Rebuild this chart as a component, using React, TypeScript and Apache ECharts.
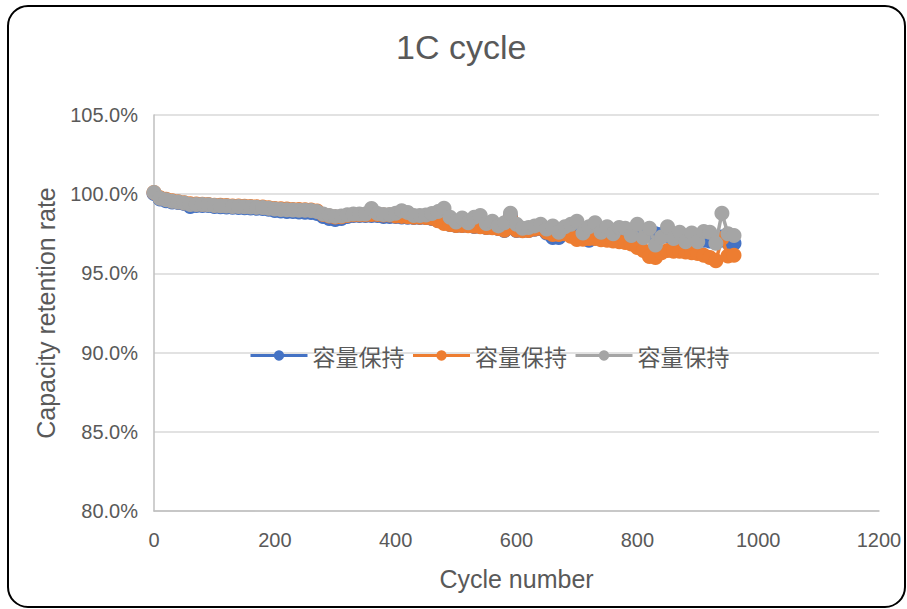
import React, { useEffect, useRef } from "react";
import * as echarts from "echarts";

const cycles = [
  0, 10, 20, 30, 40, 50, 60, 70, 80, 90,
  100, 110, 120, 130, 140, 150, 160, 170, 180, 190,
  200, 210, 220, 230, 240, 250, 260, 270, 280, 290,
  300, 310, 320, 330, 340, 350, 360, 370, 380, 390,
  400, 410, 420, 430, 440, 450, 460, 470, 480, 490,
  500, 510, 520, 530, 540, 550, 560, 570, 580, 590,
  600, 610, 620, 630, 640, 650, 660, 670, 680, 690,
  700, 710, 720, 730, 740, 750, 760, 770, 780, 790,
  800, 810, 820, 830, 840, 850, 860, 870, 880, 890,
  900, 910, 920, 930, 940, 950, 960,
];

const blueValues = [
  100.05, 99.7, 99.58, 99.5, 99.48, 99.41, 99.22, 99.29, 99.29, 99.29,
  99.22, 99.2, 99.19, 99.17, 99.16, 99.15, 99.13, 99.12, 99.1, 99.05,
  98.97, 98.94, 98.91, 98.9, 98.88, 98.86, 98.84, 98.78, 98.59, 98.47,
  98.4, 98.47, 98.59, 98.66, 98.66, 98.66, 98.66, 98.66, 98.59, 98.59,
  98.59, 98.56, 98.55, 98.53, 98.53, 98.53, 98.47, 98.34, 98.21, 98.09,
  98.02, 98.02, 98.02, 97.96, 97.96, 97.9, 97.9, 97.83, 97.71, 98.6,
  97.71, 97.71, 97.71, 97.78, 97.83, 97.55, 97.27, 97.27, 97.58, 97.45,
  97.4, 97.35, 97.1, 97.4, 97.45, 97.45, 97.45, 97.4, 97.4, 97.35,
  97.45, 97.5, 97.45, 97.5, 97.45, 97.4, 97.35, 97.3, 97.25, 97.2,
  97.15, 97.1, 97.05, 97.0, 97.3, 96.95, 96.9,
];

const orangeValues = [
  100.1, 99.77, 99.68, 99.58, 99.53, 99.46, 99.4, 99.38, 99.37, 99.35,
  99.31, 99.3, 99.28, 99.26, 99.25, 99.24, 99.22, 99.21, 99.19, 99.15,
  99.1, 99.08, 99.06, 99.04, 99.03, 99.02, 99.01, 98.94, 98.72, 98.62,
  98.56, 98.58, 98.66, 98.7, 98.7, 98.7, 98.72, 98.72, 98.68, 98.68,
  98.62, 98.6, 98.58, 98.55, 98.54, 98.53, 98.48, 98.32, 98.15, 98.08,
  98.02, 98.02, 98.01, 97.97, 97.95, 97.9, 97.88, 97.84, 97.72, 98.5,
  97.72, 97.7, 97.71, 97.8, 97.85, 97.6, 97.45, 97.45, 97.5, 97.35,
  97.14, 97.15, 97.2, 97.2, 97.12, 97.1, 97.05, 97.0, 96.95, 96.85,
  96.64, 96.45, 96.07, 96.0, 96.3, 96.45, 96.4, 96.4, 96.35, 96.3,
  96.25, 96.15, 96.0, 95.8, 97.2, 96.1, 96.15,
];

const greyValues = [
  100.1, 99.75, 99.65, 99.56, 99.51, 99.44, 99.35, 99.35, 99.35, 99.33,
  99.28, 99.27, 99.25, 99.23, 99.22, 99.21, 99.19, 99.18, 99.16, 99.12,
  99.06, 99.04, 99.02, 99.0, 98.99, 98.98, 98.97, 98.9, 98.75, 98.66,
  98.6, 98.62, 98.7, 98.75, 98.75, 98.75, 99.1, 98.78, 98.72, 98.72,
  98.8, 98.95, 98.85, 98.65, 98.65, 98.68, 98.78, 98.9, 99.12, 98.55,
  98.25, 98.5, 98.2, 98.55, 98.65, 98.15, 98.3, 98.0, 98.2, 98.8,
  98.1, 97.85, 97.9, 98.0, 98.1, 97.8, 98.0, 97.6, 97.95, 98.1,
  98.3, 97.55, 97.95, 98.2, 97.6, 97.95, 97.5, 97.9, 97.85, 97.4,
  98.1, 97.25, 97.85, 96.8, 97.3, 97.95, 97.2, 97.6, 97.0, 97.55,
  97.0, 97.65, 97.6, 96.9, 98.8, 97.5, 97.4,
];

const legendLabel = "容量保持";
const seriesIds = ["series1", "series2", "series3"];
const seriesColors = ["#4472C4", "#ED7D31", "#A5A5A5"];
const yTicks = { min: 80, max: 105, interval: 5 };
const xTicks = { min: 0, max: 1200, interval: 200 };

const TEXT = "#595959";
const FONT = "'Liberation Sans', Arial, sans-serif";

export default function App() {
  const ref = useRef<HTMLDivElement>(null);

  useEffect(() => {
    if (!ref.current) return;
    const chart = echarts.init(ref.current, undefined, { renderer: "svg" });
    const all = [blueValues, orangeValues, greyValues];
    const series = all.map((vals, i) => ({
      name: seriesIds[i],
      type: "line",
      data: cycles.map((c, k) => [c, vals[k]]),
      symbol: "circle",
      symbolSize: 15,
      showSymbol: true,
      showAllSymbol: true,
      lineStyle: { color: seriesColors[i], width: 3.5 },
      itemStyle: { color: seriesColors[i] },
      z: 2 + i,
    }));
    chart.setOption({
      animation: false,
      backgroundColor: "#ffffff",
      title: {
        text: "1C cycle",
        left: 391,
        top: 25,
        textStyle: {
          fontFamily: FONT,
          fontSize: 34,
          fontWeight: "normal",
          color: TEXT,
        },
      },
      legend: {
        left: 244,
        top: 339,
        itemWidth: 57,
        itemHeight: 13,
        itemGap: 7,
        formatter: () => legendLabel,
        lineStyle: { width: 3 },
        textStyle: {
          fontFamily: "'Noto Sans CJK SC', sans-serif",
          fontSize: 23,
          color: TEXT,
        },
        data: seriesIds,
      },
      grid: { left: 154, right: 28, top: 115, bottom: 98 },
      xAxis: {
        type: "value",
        min: xTicks.min,
        max: xTicks.max,
        interval: xTicks.interval,
        name: "Cycle number",
        nameLocation: "middle",
        nameGap: 55,
        nameTextStyle: { fontFamily: FONT, fontSize: 25, color: TEXT },
        axisLine: { show: true, lineStyle: { color: "#BFBFBF", width: 1.5 } },
        axisTick: { show: false },
        splitLine: { show: false },
        axisLabel: {
          fontFamily: FONT,
          fontSize: 20,
          color: TEXT,
          margin: 19,
          formatter: (v: number) => String(v),
        },
      },
      yAxis: {
        type: "value",
        min: yTicks.min,
        max: yTicks.max,
        interval: yTicks.interval,
        name: "Capacity retention rate",
        nameLocation: "middle",
        nameGap: 96,
        nameTextStyle: { fontFamily: FONT, fontSize: 25, color: TEXT },
        axisLine: { show: true, lineStyle: { color: "#BFBFBF", width: 1.5 } },
        axisTick: { show: false },
        splitLine: { show: true, lineStyle: { color: "#D9D9D9", width: 1.5 } },
        axisLabel: {
          fontFamily: FONT,
          fontSize: 20,
          color: TEXT,
          margin: 16,
          formatter: (v: number) => v.toFixed(1) + "%",
        },
      },
      series,
      graphic: [
        {
          type: "rect",
          silent: true,
          z: 100,
          shape: { x: 8, y: 6, width: 897, height: 601, r: 20 },
          style: { fill: "none", stroke: "#000000", lineWidth: 2 },
        },
      ],
    });
    return () => chart.dispose();
  }, []);

  return (
    <div
      ref={ref}
      style={{ position: "absolute", left: 0, top: 0, width: 907, height: 609 }}
    />
  );
}
